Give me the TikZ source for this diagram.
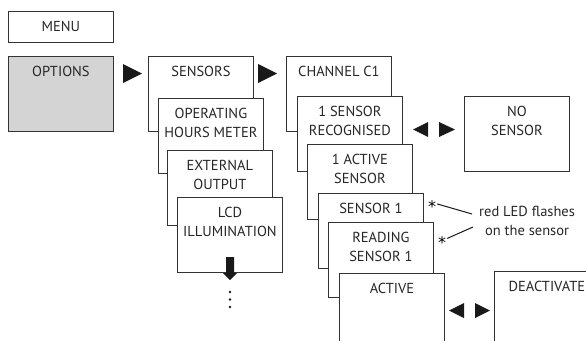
\documentclass[tikz,border=0pt]{standalone}
\usepackage{fontspec}
\setmainfont{PT Sans}
\newfontfamily\starfont{DejaVu Sans}
\usepackage{xcolor}

\begin{document}
\begin{tikzpicture}[x=1pt,y=1pt,every text node part/.style={align=center},
  menubox/.style={draw=black!80,line width=0.8pt,fill=white,anchor=north west,
    minimum width=105pt,minimum height=75pt,inner sep=0pt},
  boxtext/.style={anchor=north,yshift=-10pt,inner sep=0pt,
    font=\fontsize{14.5}{19}\selectfont,text=black!85},
  ledstar/.style={anchor=base,inner sep=0pt,font=\starfont\fontsize{16}{16}\selectfont},
  pointer/.style={line width=1pt,black!90}]
\path [use as bounding box,clip] (0,0) rectangle (586,-340);
% left column
\node [menubox,minimum height=31pt,font=\fontsize{14.5}{19}\selectfont,text=black!85] (menu) at (8,-11) {MENU};
\node [menubox,fill=black!17,label={[boxtext]north:OPTIONS}] (options) at (8,-56) {};
\fill [black!90] (123,-64) -- (142,-73.5) -- (123,-83) -- cycle;
% sensors stack
\node [menubox,label={[boxtext]north:SENSORS}] (sensors) at (148,-56) {};
\node [menubox,label={[boxtext]north:OPERATING\\HOURS METER}] (hours) at (158,-98) {};
\node [menubox,label={[boxtext]north:EXTERNAL\\OUTPUT}] (external) at (167,-150) {};
\node [menubox,label={[boxtext]north:LCD\\ILLUMINATION}] (lcd) at (177,-197) {};
\fill [black!90] (226,-257) -- (234,-257) -- (234,-273) -- (237,-273) -- (230,-280)
  -- (223,-273) -- (226,-273) -- cycle;
\foreach \y in {292,299.5,307}
  \fill [black!90] (230,-\y) circle (1.4);
\fill [black!90] (258,-64) -- (277,-73.5) -- (258,-83) -- cycle;
% channel stack
\node [menubox,label={[boxtext]north:CHANNEL C1}] (channel) at (286,-56) {};
\node [menubox,label={[boxtext]north:1 SENSOR\\RECOGNISED}] (recognised) at (297,-96) {};
\node [menubox,label={[boxtext]north:1 ACTIVE\\SENSOR}] (activeone) at (307,-144) {};
\node [menubox,label={[boxtext]north:SENSOR 1}] (sensorone) at (318,-193) {};
\node [menubox,label={[boxtext]north:READING\\SENSOR 1}] (reading) at (328,-222) {};
\node [menubox,label={[boxtext]north:ACTIVE}] (active) at (339,-273) {};
% alternatives
\fill [black!90] (428,-122) -- (413,-129.5) -- (428,-137) -- cycle;
\fill [black!90] (439,-122) -- (455,-129.5) -- (439,-137) -- cycle;
\node [menubox,label={[boxtext]north:NO\\SENSOR}] (nosensor) at (464,-96) {};
\fill [black!90] (464,-303) -- (449,-310.5) -- (464,-318) -- cycle;
\fill [black!90] (475,-303) -- (490,-310.5) -- (475,-318) -- cycle;
\node [menubox,label={[boxtext]north:DEACTIVATE}] (deactivate) at (494,-271) {};
% LED note
\node [ledstar] (starone) at (432,-212.5) {*};
\node [ledstar] (startwo) at (442,-248.5) {*};
\node [anchor=west,inner sep=0pt,font=\fontsize{14.5}{19}\selectfont,text=black!85] (note) at (479,-220.5) {red LED flashes\\on the sensor};
\coordinate (noteone) at (472,-214);
\coordinate (notetwo) at (473,-227);
\draw [pointer] ([xshift=1pt,yshift=-3.5pt]starone.north east) -- (noteone);
\draw [pointer] ([xshift=1pt,yshift=-2pt]startwo.north east) -- (notetwo);
\end{tikzpicture}
\end{document}
